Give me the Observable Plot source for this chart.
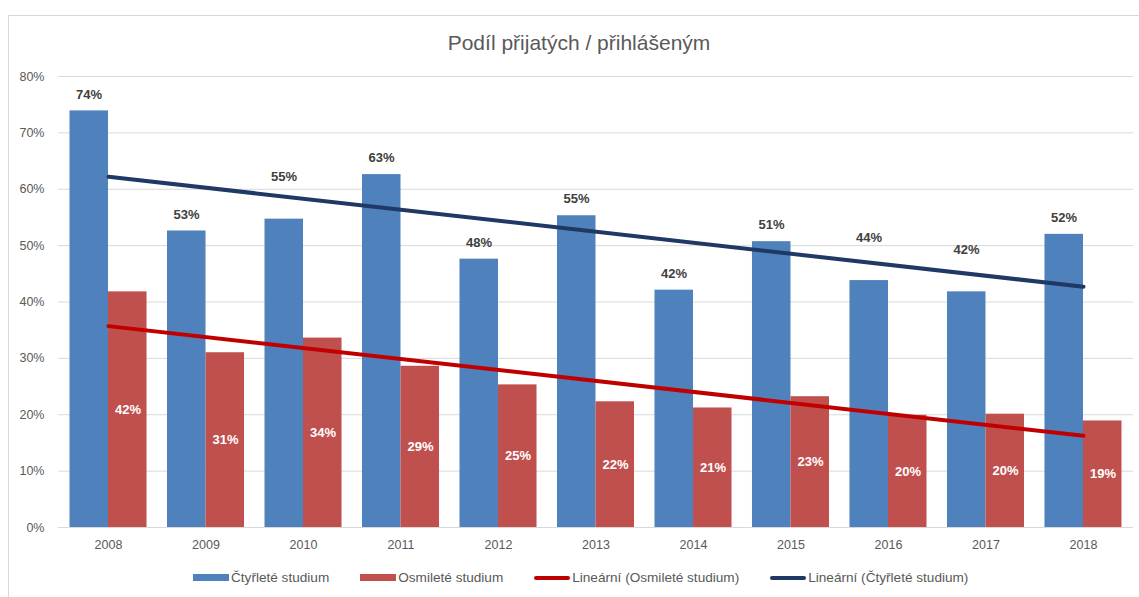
<!DOCTYPE html>
<html>
<head>
<meta charset="utf-8">
<script src="https://cdn.jsdelivr.net/npm/d3@7"></script>
<script src="https://cdn.jsdelivr.net/npm/@observablehq/plot@0.6"></script>
<style>
  html, body { margin: 0; padding: 0; background: #fff; overflow: hidden; }
  body { width: 1139px; height: 597px; position: relative; font-family: "Liberation Sans", Arial, sans-serif; }
  #frame { position: absolute; left: 8px; top: 15px; width: 1200px; height: 700px; border: 1px solid #d9d9d9; box-sizing: border-box; }
  #title { position: absolute; left: 0; width: 1158px; top: 31px; text-align: center; font-size: 21px; color: #595959; }
  #chart { position: absolute; left: 0; top: 60px; }
  #legend { position: absolute; left: 193px; top: 570px; display: flex; align-items: center; font-size: 13.6px; color: #595959; white-space: nowrap; }
  .item { display: flex; align-items: center; margin-right: 31px; }
  .sw { width: 36px; margin-right: 2px; }
</style>
</head>
<body>
<div id="frame"></div>
<div id="title">Podíl přijatých / přihlášeným</div>
<div id="chart"></div>
<div id="legend"></div>
<script>
const years = [2008, 2009, 2010, 2011, 2012, 2013, 2014, 2015, 2016, 2017, 2018];
const ctyrlete = [73.9, 52.6, 54.7, 62.6, 47.6, 55.3, 42.1, 50.7, 43.8, 41.8, 52.0];
const osmilete = [41.8, 31.0, 33.6, 28.6, 25.3, 22.3, 21.2, 23.2, 19.9, 20.1, 18.9];
const yTicks = [0, 10, 20, 30, 40, 50, 60, 70, 80];
const seriesNames = ["Čtyřleté studium", "Osmileté studium", "Lineární (Osmileté studium)", "Lineární (Čtyřleté studium)"];
// years whose top label was moved up in the original
const liftedYears = [2010, 2016, 2017];

const colors = { blue: "#4f81bd", red: "#c0504d", trendRed: "#c00000", trendBlue: "#1f3864" };

const rows4 = years.map((year, i) => ({ year, value: ctyrlete[i] }));
const rows8 = years.map((year, i) => ({ year, value: osmilete[i] }));
const pct = d => Math.round(d.value) + "%";
const font = "'Liberation Sans', Arial, sans-serif";

const chart = Plot.plot({
  width: 1139,
  height: 500,
  marginTop: 16,
  marginBottom: 33,
  marginLeft: 58,
  marginRight: 6,
  x: { domain: [2007.487, 2018.513] },
  y: { domain: [0, 80] },
  style: { fontFamily: font, fontSize: "12.5px", color: "#595959", background: "transparent", overflow: "visible" },
  marks: [
    Plot.gridY(yTicks, { stroke: "#d9d9d9", strokeOpacity: 1, strokeWidth: 1 }),
    Plot.axisY(yTicks, { tickSize: 0, tickPadding: 14, tickFormat: d => d + "%", label: null, fill: "#595959" }),
    Plot.axisX(years, { tickSize: 0, tickPadding: 13, tickFormat: d => String(d), label: null, fill: "#595959" }),
    Plot.rectY(rows4, { x1: d => d.year - 0.395, x2: d => d.year, y: "value", fill: colors.blue }),
    Plot.rectY(rows8, { x1: d => d.year, x2: d => d.year + 0.395, y: "value", fill: colors.red }),
    Plot.linearRegressionY(rows8, { x: "year", y: "value", ci: 0, stroke: colors.trendRed, strokeWidth: 4 }),
    Plot.linearRegressionY(rows4, { x: "year", y: "value", ci: 0, stroke: colors.trendBlue, strokeWidth: 4 }),
    Plot.text(rows4.filter(d => !liftedYears.includes(d.year)), { x: d => d.year - 0.2, y: "value", text: pct, dy: -16.5, lineAnchor: "middle", fill: "#404040", fontWeight: "bold", fontSize: 13 }),
    Plot.text(rows4.filter(d => liftedYears.includes(d.year)), { x: d => d.year - 0.2, y: "value", text: pct, dy: -42.5, lineAnchor: "middle", fill: "#404040", fontWeight: "bold", fontSize: 13 }),
    Plot.text(rows8, { x: d => d.year + 0.2, y: d => d.value / 2, text: pct, lineAnchor: "middle", fill: "#ffffff", fontWeight: "bold", fontSize: 13 })
  ]
});
document.getElementById("chart").appendChild(chart);

const swatches = [
  { color: colors.blue, h: 7, r: 0 },
  { color: colors.red, h: 7, r: 0 },
  { color: colors.trendRed, h: 4, r: 2 },
  { color: colors.trendBlue, h: 4, r: 2 }
];
const legend = document.getElementById("legend");
seriesNames.forEach((name, i) => {
  const item = document.createElement("div");
  item.className = "item";
  const sw = document.createElement("div");
  sw.className = "sw";
  sw.style.height = swatches[i].h + "px";
  sw.style.background = swatches[i].color;
  sw.style.borderRadius = swatches[i].r + "px";
  const t = document.createElement("span");
  t.textContent = name;
  item.appendChild(sw);
  item.appendChild(t);
  legend.appendChild(item);
});
</script>
</body>
</html>
